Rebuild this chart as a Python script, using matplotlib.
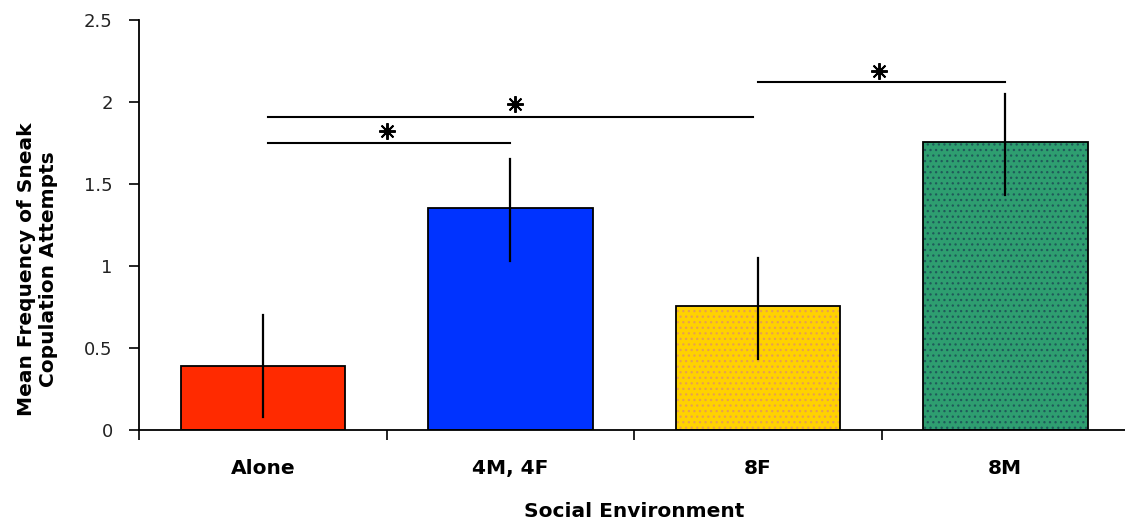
import numpy as np
import matplotlib.pyplot as plt

groups = ['Alone', '4M, 4F', '8F', '8M']
means = [0.39, 1.355, 0.755, 1.755]
err_lo = [0.08, 1.03, 0.43, 1.43]
err_hi = [0.70, 1.65, 1.05, 2.05]
colors = ['#ff2a00', '#0033ff', '#ffd200', '#2e9e70']
hatch_cols = [None, None, '#e8a050', '#1f5a5a']

# significance brackets
sig_from = [0.02, 0.02, 2.0]
sig_to = [1.0, 1.98, 3.0]
sig_y = [1.75, 1.91, 2.12]
star_x = [0.5, 1.02, 2.49]
star_y = [1.82, 1.99, 2.19]

plt.rcParams['hatch.linewidth'] = 0.9
fig = plt.figure(figsize=(11.25, 5.23), dpi=100)
ax = fig.add_axes([0.1236, 0.178, 0.88, 0.784])

x = np.arange(len(groups))
w = 0.665
for i in range(len(groups)):
    if hatch_cols[i] is None:
        ax.bar(x[i], means[i], w, color=colors[i], edgecolor='black', linewidth=1.3, zorder=2)
    else:
        ax.bar(x[i], means[i], w, color=colors[i], edgecolor=hatch_cols[i], hatch='...', linewidth=0, zorder=2)
        ax.bar(x[i], means[i], w, fill=False, edgecolor='black', linewidth=1.3, zorder=3)
    ax.plot([x[i], x[i]], [err_lo[i], err_hi[i]], color='black', lw=1.6, zorder=4)

for i in range(len(sig_y)):
    ax.plot([sig_from[i], sig_to[i]], [sig_y[i], sig_y[i]], color='black', lw=1.5)
    ax.plot(star_x[i], star_y[i], marker=(8, 2, 0), color='black', markersize=12, mew=1.4)
    ax.plot(star_x[i], star_y[i], marker='o', color='black', markersize=4)

ax.set_xlim(-0.5, 3.5)
ax.set_ylim(0, 2.5)
for s in ['top', 'right']:
    ax.spines[s].set_visible(False)
ax.spines['left'].set_linewidth(1.3)
ax.spines['bottom'].set_linewidth(1.3)

ax.set_yticks([0, 0.5, 1, 1.5, 2, 2.5])
ax.set_yticklabels(['0', '0.5', '1', '1.5', '2', '2.5'], fontsize=13, color='#222222')
ax.set_xticks(x)
ax.set_xticklabels(groups, fontsize=14.5, fontweight='bold')
ax.tick_params(axis='x', length=0, pad=21)
ax.tick_params(axis='y', length=7, width=1.2, pad=12)
ax.set_xticks([-0.5, 0.5, 1.5, 2.5], minor=True)
ax.tick_params(axis='x', which='minor', length=7, width=1.2)

ax.set_xlabel('Social Environment', fontsize=14.5, fontweight='bold', labelpad=17)
ax.set_ylabel('Mean Frequency of Sneak\nCopulation Attempts', fontsize=14.5, fontweight='bold')
ax.yaxis.set_label_coords(-0.082, 0.393)

fig.savefig('out.png', dpi=100)
